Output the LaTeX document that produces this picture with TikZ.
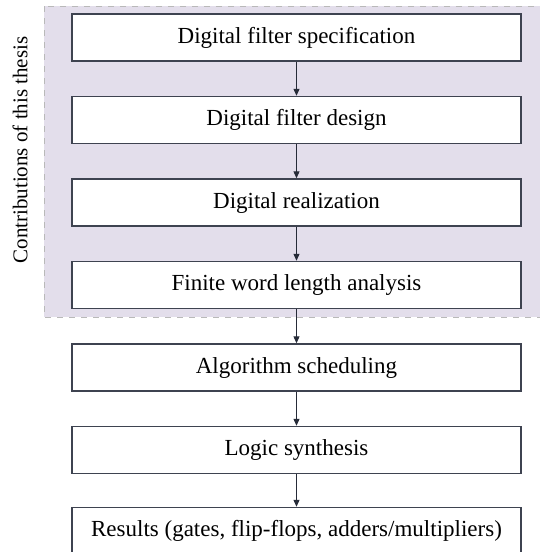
\documentclass[tikz,border=0pt]{standalone}
\usepackage{fontspec}
\setmainfont{Liberation Serif}
\usetikzlibrary{arrows.meta}

\definecolor{thesisbg}{HTML}{E3DEEB}
\definecolor{boxline}{HTML}{3E4350}
\definecolor{flowline}{HTML}{262B38}

\tikzset{
  stepbox/.style={draw=boxline, line width=0.7pt, fill=white, minimum width=224.5pt,
    minimum height=23.5pt, inner sep=0pt, font=\fontsize{11.5}{13}\selectfont},
  flow/.style={draw=flowline, line width=0.5pt, -{Triangle[length=3.5pt, width=3pt]}}
}

\begin{document}
\begin{tikzpicture}[x=0.5pt, y=-0.5pt]
    \useasboundingbox (0, 0) rectangle (540, 552);

    % draw shaded area of the contributions
    \filldraw[fill=thesisbg, draw=gray!55, dashed, line width=0.5pt]
      (44, 6) rectangle (548, 317);

    % draw label
    \node[rotate=90, font=\fontsize{10.5}{12}\selectfont] (contrib) at (20, 150)
      {Contributions of this thesis};

    % draw steps
    \node[stepbox] (spec)   at (296.5, 37.5)  {Digital filter specification};
    \node[stepbox] (design) at (296.5, 120)   {Digital filter design};
    \node[stepbox] (real)   at (296.5, 202.5) {Digital realization};
    \node[stepbox] (fwl)    at (296.5, 285)   {Finite word length analysis};
    \node[stepbox] (sched)  at (296.5, 367.5) {Algorithm scheduling};
    \node[stepbox] (logic)  at (296.5, 450)   {Logic synthesis};
    \node[stepbox] (res)    at (296.5, 531)   {Results (gates, flip-flops, adders/multipliers)};

    % draw arrows
    \draw[flow] (spec)   -- (design);
    \draw[flow] (design) -- (real);
    \draw[flow] (real)   -- (fwl);
    \draw[flow] (fwl)    -- (sched);
    \draw[flow] (sched)  -- (logic);
    \draw[flow] (logic)  -- (res);

\end{tikzpicture}
\end{document}
